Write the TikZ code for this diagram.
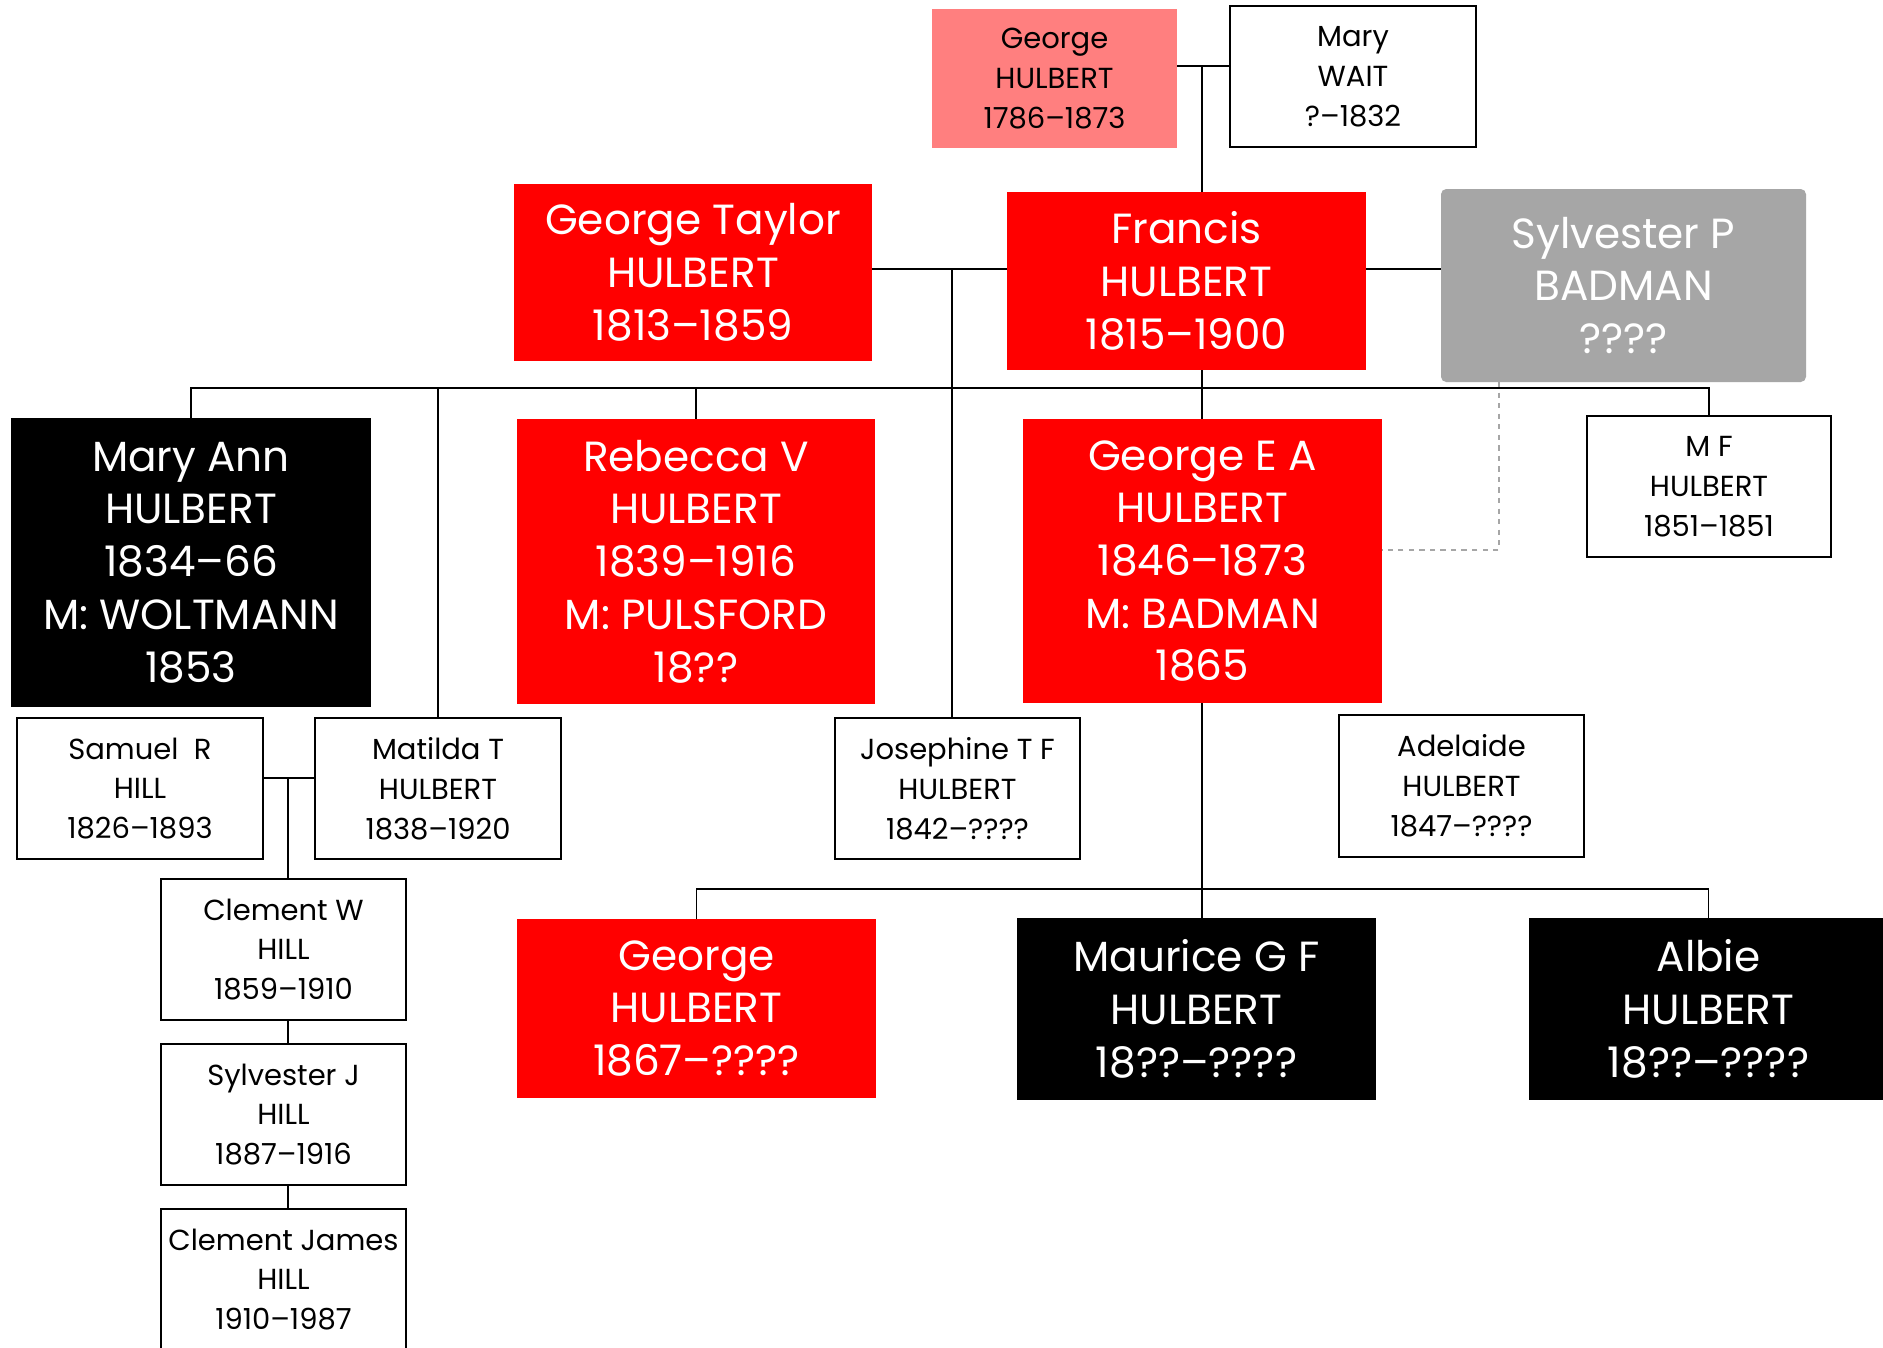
\documentclass[tikz,border=0pt]{standalone}
\usepackage{fontspec}
\setmainfont{Poppins}
\definecolor{cred}{HTML}{FF0000}
\definecolor{cpink}{HTML}{FF7F7F}
\definecolor{cgray}{HTML}{A6A6A6}
\newcommand\mybox[7]{%
  \pgfmathsetmacro\bw{(#4-#2)*0.02}%
  \pgfmathsetmacro\bh{(#5-#3)*0.02}%
  \node[#6, minimum width=\bw cm, minimum height=\bh cm] (#1) at ({(#2+#4)/2},{(#3+#5)/2}) {#7};}
\begin{document}
\begin{tikzpicture}[x=0.02cm,y=-0.02cm,
  every node/.style={outer sep=0pt, inner sep=0pt, align=center},
  lg/.style={font=\fontsize{24}{30}\selectfont, text=white},
  sm/.style={font=\fontsize{16.5}{22.7}\selectfont, text=black},
  redbox/.style={lg, fill=cred},
  blkbox/.style={lg, fill=black},
  graybox/.style={lg, fill=cgray, rounded corners=3pt},
  wbox/.style={sm, draw=black, line width=1.1pt, fill=white},
  pinkbox/.style={sm, fill=cpink},
  link/.style={draw=black, line width=0.85pt},
  dlink/.style={draw=gray!70, line width=0.6pt, dashed}]
\useasboundingbox (0,0) rectangle (1883,1347);
\fill[white] (0,0) rectangle (1883,1347);
\mybox{gH}{932}{9}{1177}{148}{pinkbox}{George\\HULBERT\\1786–1873}
\mybox{mW}{1230}{6}{1476}{147}{wbox}{Mary\\WAIT\\?–1832}
\mybox{gT}{514}{184}{872}{361}{redbox}{George Taylor\\HULBERT\\1813–1859}
\mybox{fH}{1007}{192}{1366}{370}{redbox}{Francis\\HULBERT\\1815–1900}
\mybox{sB}{1441}{189}{1806}{382}{graybox}{Sylvester P\\BADMAN\\????}
\mybox{mA}{11}{418}{371}{707}{blkbox}{Mary Ann\\HULBERT\\1834–66\\M: WOLTMANN\\1853}
\mybox{rV}{517}{419}{875}{704}{redbox}{Rebecca V\\HULBERT\\1839–1916\\M: PULSFORD\\18??}
\mybox{gE}{1023}{419}{1382}{703}{redbox}{George E A\\HULBERT\\1846–1873\\M: BADMAN\\1865}
\mybox{mF}{1587}{416}{1831}{557}{wbox}{M F\\HULBERT\\1851–1851}
\mybox{sR}{17}{718}{263}{859}{wbox}{Samuel\ \ R\\HILL\\1826–1893}
\mybox{mT}{315}{718}{561}{859}{wbox}{Matilda T\\HULBERT\\1838–1920}
\mybox{jT}{835}{718}{1080}{859}{wbox}{Josephine T F\\HULBERT\\1842–????}
\mybox{aH}{1339}{715}{1584}{857}{wbox}{Adelaide\\HULBERT\\1847–????}
\mybox{cW}{161}{879}{406}{1020}{wbox}{Clement W\\HILL\\1859–1910}
\mybox{sJ}{161}{1044}{406}{1185}{wbox}{Sylvester J\\HILL\\1887–1916}
\mybox{cJ}{161}{1209}{406}{1350}{wbox}{Clement James\\HILL\\1910–1987}
\mybox{gG}{517}{919}{876}{1098}{redbox}{George\\HULBERT\\1867–????}
\mybox{mG}{1017}{918}{1376}{1100}{blkbox}{Maurice G F\\HULBERT\\18??–????}
\mybox{aB}{1529}{918}{1888}{1100}{blkbox}{Albie\\HULBERT\\18??–????}
\coordinate (jA) at (1202,66);
\coordinate (jB) at (952,269);
\coordinate (jS) at (1202,388);
\coordinate (jC) at (288,778);
\coordinate (jG) at (1202,889);
\coordinate (jD) at (1499,550);
\draw[link] (gH.east |- jA) -- (mW.west |- jA);
\draw[link] (jA) -- (jA |- fH.north);
\draw[link] (gT.east |- jB) -- (fH.west |- jB);
\draw[link] (fH.east |- jB) -- (sB.west |- jB);
\draw[link] (jB) -- (jB |- jT.north);
\draw[link] (jA |- fH.south) -- (jA |- gE.north);
\draw[link] (mA.north) -- (mA.north |- jS) -- (mF.north |- jS) -- (mF.north);
\draw[link] (mT.north |- jS) -- (mT.north);
\draw[link] (rV.north |- jS) -- (rV.north);
\draw[link] (sR.east |- jC) -- (mT.west |- jC);
\draw[link] (jC) -- (jC |- cW.north);
\draw[link] (jC |- cW.south) -- (jC |- sJ.north);
\draw[link] (jC |- sJ.south) -- (jC |- cJ.north);
\draw[link] (jA |- gE.south) -- (jA |- mG.north);
\draw[link] (gG.north) -- (gG.north |- jG) -- (aB.north |- jG) -- (aB.north);
\draw[dlink] (jD |- sB.south) -- (jD) -- (gE.east |- jD);
\end{tikzpicture}
\end{document}
